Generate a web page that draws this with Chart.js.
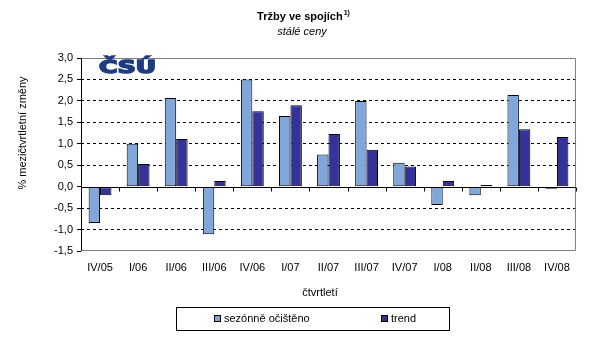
<!DOCTYPE html>
<html>
<head>
<meta charset="utf-8">
<script src="https://cdn.jsdelivr.net/npm/chart.js@4"></script>
<style>
  html, body { margin: 0; padding: 0; background: #fff; }
  canvas { display: block; }
</style>
</head>
<body>
<canvas id="trzbyChart" width="604" height="361"></canvas>
<script>
  // Tržby ve spojích, meziročtvrtletní změny (stálé ceny)
  const quarters = ['IV/05', 'I/06', 'II/06', 'III/06', 'IV/06', 'I/07', 'II/07', 'III/07', 'IV/07', 'I/08', 'II/08', 'III/08', 'IV/08'];
  const seasonal = [-0.85, 1.0, 2.07, -1.11, 2.5, 1.65, 0.75, 2.0, 0.56, -0.43, -0.2, 2.14, -0.05];
  const trend = [-0.2, 0.53, 1.11, 0.13, 1.76, 1.9, 1.23, 0.86, 0.47, 0.13, 0.04, 1.34, 1.16];
  const yTicks = [-1.5, -1.0, -0.5, 0.0, 0.5, 1.0, 1.5, 2.0, 2.5, 3.0];

  const lightBlue = '#7fa7dc';
  const darkBlue = '#333399';
  const font = 'Liberation Sans, Arial, sans-serif';

  const fmt = v => v.toFixed(1).replace('.', ',');

  // titulky, logo, popisky os, legenda a nulová osa
  const decorPlugin = {
    id: 'decor',
    afterDatasetsDraw(chart) {
      const ctx = chart.ctx;
      const a = chart.chartArea;
      const x = chart.scales.x;
      const y = chart.scales.y;
      const y0 = Math.round(y.getPixelForValue(0)) + 0.5;
      ctx.save();
      // plot border
      ctx.strokeStyle = '#808080';
      ctx.lineWidth = 1;
      ctx.beginPath();
      ctx.moveTo(a.left, a.top + 0.5);
      ctx.lineTo(a.right - 0.5, a.top + 0.5);
      ctx.lineTo(a.right - 0.5, a.bottom - 0.5);
      ctx.lineTo(a.left, a.bottom - 0.5);
      ctx.stroke();
      // y axis
      ctx.strokeStyle = '#000';
      ctx.beginPath();
      ctx.moveTo(a.left + 0.5, a.top);
      ctx.lineTo(a.left + 0.5, a.bottom);
      ctx.stroke();
      // zero line + category ticks
      ctx.beginPath();
      ctx.moveTo(a.left, y0);
      ctx.lineTo(a.right, y0);
      const step = x.getPixelForValue(1) - x.getPixelForValue(0);
      for (let i = 0; i <= quarters.length; i++) {
        const px = Math.round(x.getPixelForValue(i) - step / 2) + 0.5;
        ctx.moveTo(px, y0);
        ctx.lineTo(px, y0 + 4);
      }
      ctx.stroke();
      ctx.restore();
    },
    afterDraw(chart) {
      const ctx = chart.ctx;
      ctx.save();
      ctx.fillStyle = '#000';
      ctx.textBaseline = 'alphabetic';
      // title with superscript
      ctx.font = 'bold 11px ' + font;
      const main = 'Tržby ve spojích';
      const w = ctx.measureText(main).width;
      ctx.font = 'bold 7px ' + font;
      const s = ctx.measureText('1)').width;
      const tx = 303 - (w + s) / 2;
      ctx.font = 'bold 11px ' + font;
      ctx.textAlign = 'left';
      ctx.fillText(main, tx, 20);
      ctx.font = 'bold 7px ' + font;
      ctx.fillText('1)', tx + w + 1, 15);
      ctx.font = 'italic 11px ' + font;
      ctx.textAlign = 'center';
      ctx.fillText('stálé ceny', 302, 35);

      // logo
      ctx.font = 'bold 17px DejaVu Sans, sans-serif';
      const lw = ctx.measureText('ČSÚ').width;
      ctx.save();
      ctx.translate(99, 73);
      ctx.scale(57 / lw, 1);
      ctx.fillStyle = '#1f3c80';
      ctx.strokeStyle = '#1f3c80';
      ctx.lineWidth = 1.6;
      ctx.lineJoin = 'miter';
      ctx.textAlign = 'left';
      ctx.fillText('ČSÚ', 0, 0);
      ctx.strokeText('ČSÚ', 0, 0);
      ctx.restore();

      // axis titles
      ctx.font = '11px ' + font;
      ctx.textAlign = 'center';
      ctx.fillText('čtvrtletí', 320, 296);
      ctx.save();
      ctx.translate(26, 133);
      ctx.rotate(-Math.PI / 2);
      ctx.fillText('% mezičtvrtletní změny', 0, 0);
      ctx.restore();

      // legend
      ctx.strokeStyle = '#000';
      ctx.lineWidth = 1;
      ctx.strokeRect(176.5, 307.5, 273, 23);
      const items = [
        { label: 'sezónně očištěno', color: lightBlue, x: 214 },
        { label: 'trend', color: darkBlue, x: 381 }
      ];
      ctx.textAlign = 'left';
      items.forEach(it => {
        ctx.fillStyle = it.color;
        ctx.fillRect(it.x, 315, 6, 6);
        ctx.strokeRect(it.x + 0.5, 315.5, 6, 6);
        ctx.fillStyle = '#000';
        ctx.fillText(it.label, it.x + 10, 322);
      });
      ctx.restore();
    }
  };

  const ctx = document.getElementById('trzbyChart').getContext('2d');
  const trzbyChart = new Chart(ctx, {
    type: 'bar',
    data: {
      labels: quarters,
      datasets: [{
        label: 'sezónně očištěno',
        data: seasonal,
        backgroundColor: lightBlue,
        borderColor: '#000',
        borderWidth: 1,
        borderSkipped: false
      }, {
        label: 'trend',
        data: trend,
        backgroundColor: darkBlue,
        borderColor: '#000',
        borderWidth: 1,
        borderSkipped: false
      }]
    },
    options: {
      responsive: false,
      animation: false,
      devicePixelRatio: 1,
      layout: { padding: { left: 0, top: 58, right: 28, bottom: 0 } },
      plugins: {
        legend: { display: false },
        title: { display: false },
        tooltip: { enabled: false }
      },
      datasets: {
        bar: { categoryPercentage: 0.6, barPercentage: 1.0 }
      },
      scales: {
        x: {
          afterFit: s => { s.height = 110; },
          grid: { display: false, drawTicks: false },
          border: { display: false },
          ticks: {
            padding: 10,
            color: '#000',
            font: { family: font, size: 11 },
            maxRotation: 0,
            autoSkip: false
          }
        },
        y: {
          min: -1.5,
          max: 3.0,
          afterFit: s => { s.width = 81; },
          afterBuildTicks: s => { s.ticks = yTicks.map(v => ({ value: v })); },
          grid: {
            color: c => (c.tick && (c.tick.value === 0 || c.tick.value === 3 || c.tick.value === -1.5)) ? 'rgba(0,0,0,0)' : '#000',
            tickColor: '#000',
            tickLength: 4,
            lineWidth: 1
          },
          border: { display: false, dash: [3, 3] },
          ticks: {
            padding: 4,
            color: '#000',
            font: { family: font, size: 11 },
            callback: v => fmt(v)
          }
        }
      }
    },
    plugins: [decorPlugin]
  });
</script>
</body>
</html>
